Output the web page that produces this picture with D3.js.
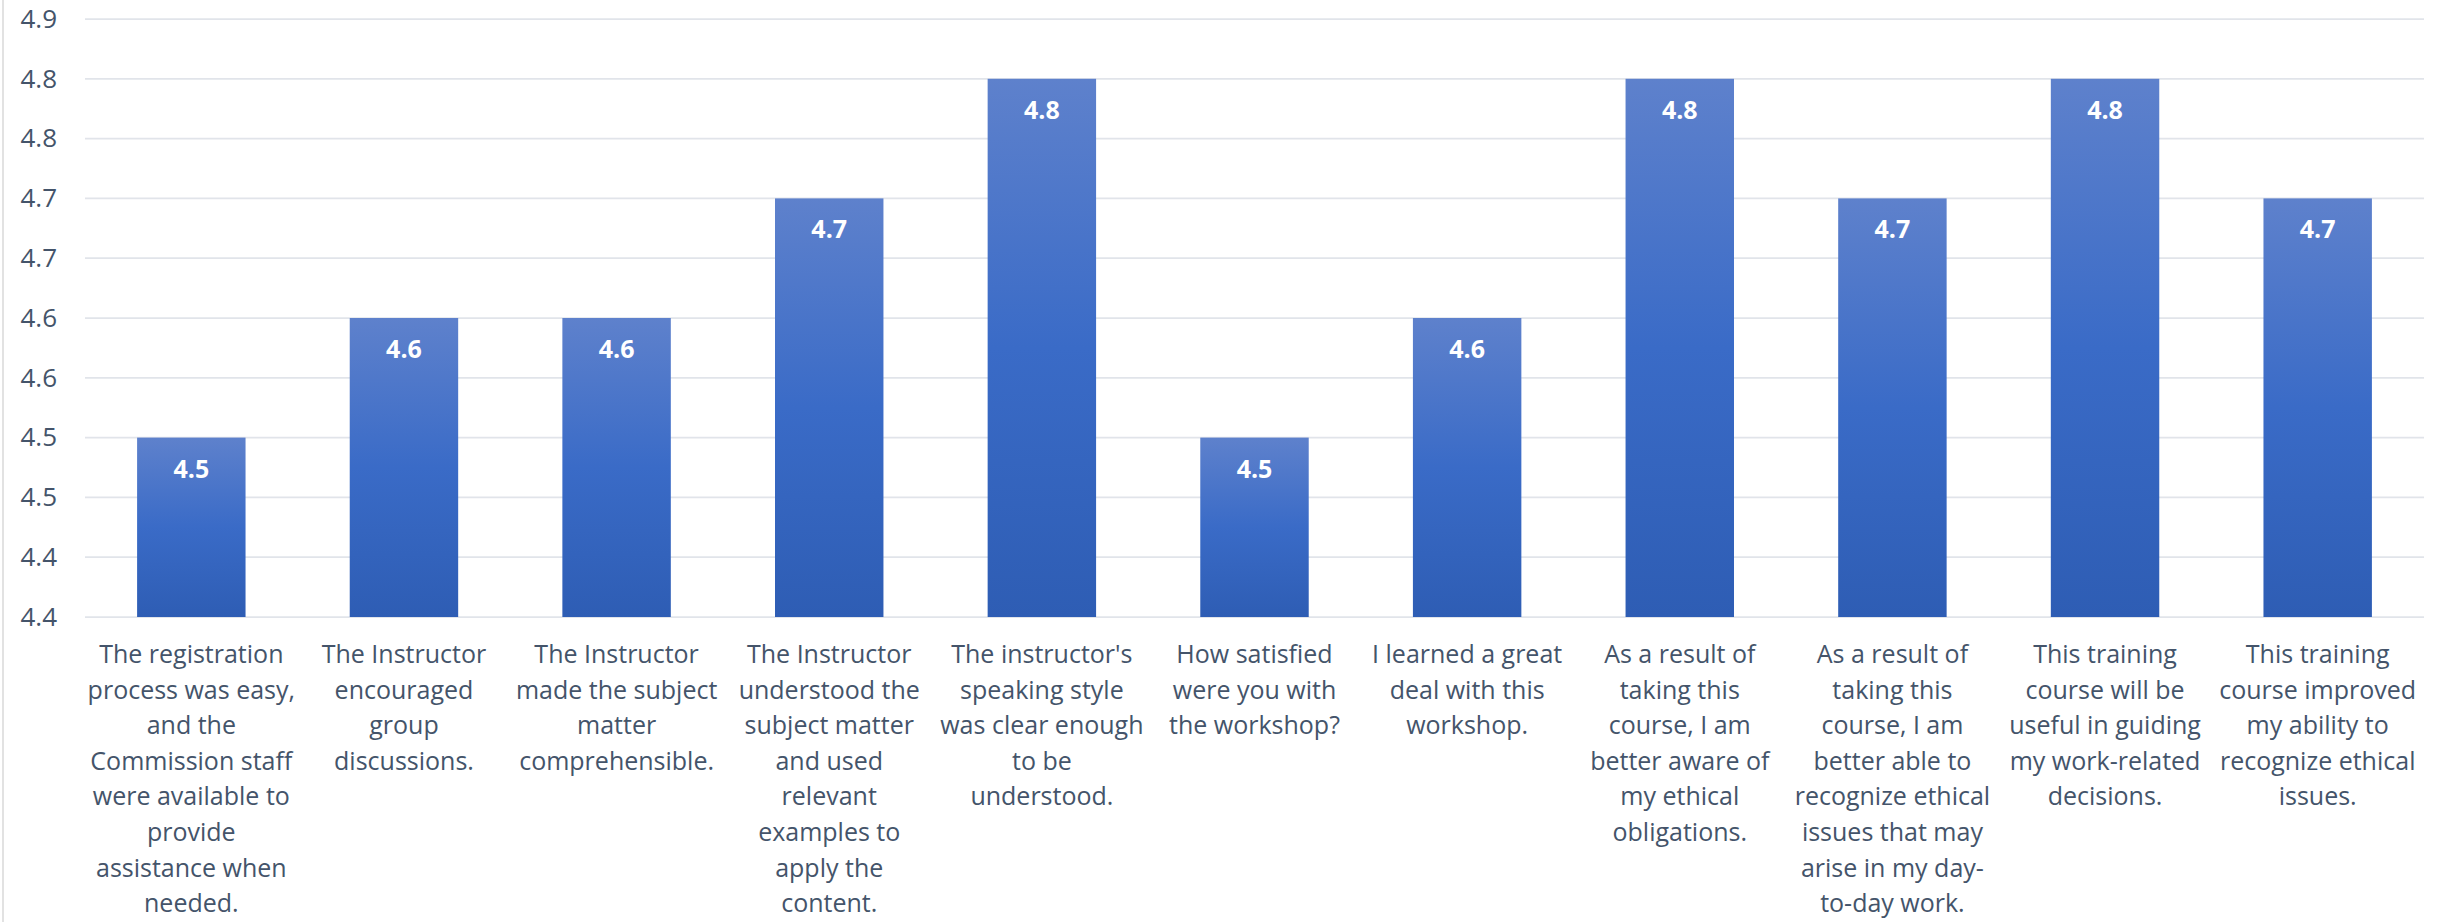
<!DOCTYPE html>
<html>
<head>
<meta charset="utf-8">
<script src="https://cdn.jsdelivr.net/npm/d3@7"></script>
<style>
  body { margin: 0; background: #fff; }
  svg { display: block; }
</style>
</head>
<body>
<div class="chart"></div>
<script>
var w = 2448;
var h = 922;

// Survey statements, one array of wrapped lines per bar
var categories = [
    ["The registration", "process was easy,", "and the", "Commission staff", "were available to", "provide", "assistance when", "needed."],
    ["The Instructor", "encouraged", "group", "discussions."],
    ["The Instructor", "made the subject", "matter", "comprehensible."],
    ["The Instructor", "understood the", "subject matter", "and used", "relevant", "examples to", "apply the", "content."],
    ["The instructor's", "speaking style", "was clear enough", "to be", "understood."],
    ["How satisfied", "were you with", "the workshop?"],
    ["I learned a great", "deal with this", "workshop."],
    ["As a result of", "taking this", "course, I am", "better aware of", "my ethical", "obligations."],
    ["As a result of", "taking this", "course, I am", "better able to", "recognize ethical", "issues that may", "arise in my day-", "to-day work."],
    ["This training", "course will be", "useful in guiding", "my work-related", "decisions."],
    ["This training", "course improved", "my ability to", "recognize ethical", "issues."]
];

// Average ratings (bar heights) and their shown labels
var values = [4.55, 4.65, 4.65, 4.75, 4.85, 4.55, 4.65, 4.85, 4.75, 4.85, 4.75];
var valueLabels = ["4.5", "4.6", "4.6", "4.7", "4.8", "4.5", "4.6", "4.8", "4.7", "4.8", "4.7"];

// Y axis ticks and their labels as printed
var tickValues = [4.40, 4.45, 4.50, 4.55, 4.60, 4.65, 4.70, 4.75, 4.80, 4.85, 4.90];
var tickLabels = ["4.4", "4.4", "4.5", "4.5", "4.6", "4.6", "4.7", "4.7", "4.8", "4.8", "4.9"];

var margin = { top: 19, right: 24, bottom: 305, left: 85 };
var plotW = w - margin.left - margin.right;
var plotH = h - margin.top - margin.bottom;

var font = "'Open Sans', Lato, sans-serif";
var textColor = "#44546a";

var svg = d3.select(".chart")
    .append("svg")
    .attr("width", w)
    .attr("height", h);

// bar gradient
var grad = svg.append("defs").append("linearGradient")
    .attr("id", "barGrad")
    .attr("x1", 0).attr("y1", 0).attr("x2", 0).attr("y2", 1);
grad.append("stop").attr("offset", "0%").attr("stop-color", "#5e81cc");
grad.append("stop").attr("offset", "50%").attr("stop-color", "#3a6bc7");
grad.append("stop").attr("offset", "100%").attr("stop-color", "#2e5db4");

// left frame edge
svg.append("line")
    .attr("x1", 3).attr("x2", 3)
    .attr("y1", 0).attr("y2", h)
    .attr("stroke", "#d9d9d9")
    .attr("stroke-width", 1.5);

var g = svg.append("g")
    .attr("transform", "translate(" + margin.left + "," + margin.top + ")");

var x = d3.scaleBand()
    .domain(d3.range(values.length))
    .range([0, plotW])
    .paddingInner(0.49)
    .paddingOuter(0.245);

var y = d3.scaleLinear()
    .domain([4.4, 4.9])
    .range([plotH, 0]);

// gridlines
g.selectAll(".grid")
    .data(tickValues)
    .enter()
    .append("line")
    .attr("class", "grid")
    .attr("x1", 0)
    .attr("x2", plotW)
    .attr("y1", d => y(d))
    .attr("y2", d => y(d))
    .attr("stroke", "#e1e4ea")
    .attr("stroke-width", 1.75);

// y axis labels
var yAxis = d3.axisLeft(y)
    .tickValues(tickValues)
    .tickFormat((d, i) => tickLabels[i])
    .tickSize(0)
    .tickPadding(28);

g.append("g")
    .call(yAxis)
    .call(a => a.select(".domain").remove())
    .selectAll("text")
    .attr("fill", textColor)
    .style("font-family", font)
    .style("font-size", "26px");

// bars
g.selectAll(".bar")
    .data(values)
    .enter()
    .append("rect")
    .attr("class", "bar")
    .attr("x", (d, i) => x(i))
    .attr("width", x.bandwidth())
    .attr("y", d => y(d))
    .attr("height", d => plotH - y(d))
    .attr("fill", "url(#barGrad)");

// value labels inside bars
g.selectAll(".val")
    .data(values)
    .enter()
    .append("text")
    .attr("class", "val")
    .attr("x", (d, i) => x(i) + x.bandwidth() / 2)
    .attr("y", d => y(d) + 40)
    .attr("text-anchor", "middle")
    .attr("fill", "#fff")
    .style("font-family", font)
    .style("font-weight", "bold")
    .style("font-size", "25px")
    .text((d, i) => valueLabels[i]);

// category labels
var lineH = 35.6;
var cat = g.selectAll(".cat")
    .data(categories)
    .enter()
    .append("text")
    .attr("class", "cat")
    .attr("text-anchor", "middle")
    .attr("fill", textColor)
    .style("font-family", font)
    .style("font-size", "25px")
    .attr("transform", (d, i) => "translate(" + (x(i) + x.bandwidth() / 2) + "," + (plotH + 46) + ")");

cat.selectAll("tspan")
    .data(d => d)
    .enter()
    .append("tspan")
    .attr("x", 0)
    .attr("y", (d, i) => i * lineH)
    .text(d => d);
</script>
</body>
</html>
